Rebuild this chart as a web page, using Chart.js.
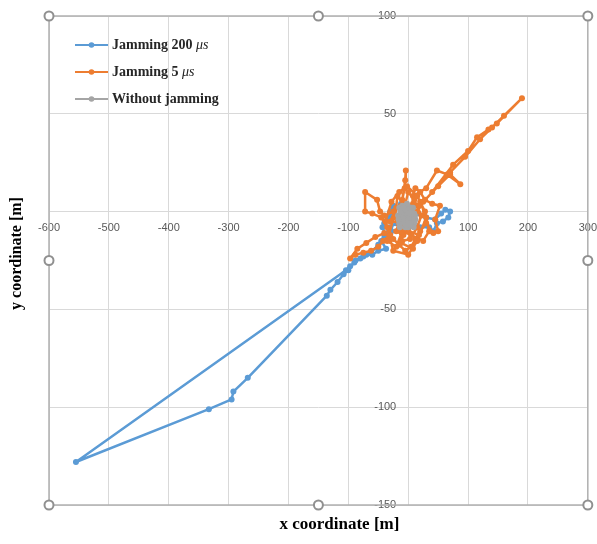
<!DOCTYPE html>
<html><head><meta charset="utf-8">
<script src="https://cdn.jsdelivr.net/npm/chart.js@4.4.0/dist/chart.umd.min.js"></script>
<style>html,body{margin:0;padding:0;background:#fff;}#wrap{width:597px;height:544px;position:relative;}</style>
</head><body><div id="wrap"><canvas id="c" width="597" height="544"></canvas></div>
<script>
// ---- data ----
const seriesNames = ['Jamming 200 \u03bcs', 'Jamming 5 \u03bcs', 'Without jamming'];
const seriesColors = ['#5B9BD5', '#ED7D31', '#A5A5A5'];
const xTitle = 'x coordinate [m]';
const yTitle = 'y coordinate [m]';

const jam200X = [-20,-30,-25,-35,-43,-38,-45,-37,-50,-60,-70,-80,-90,-97,-104,-555,-333,-295,-292,-268,-136,-130,-118,-108,-100,-88,-75,-62,-50,-40,-30,-20,-10,0,10,20,35,42,48,58,67,70,62,55,45,30,15,0,-12,-22,-32,-40,-28];
const jam200Y = [-2,0,3,-3,-8,-12,-15,-19,-20,-22,-22,-24,-26,-28,-30,-128,-101,-96,-92,-85,-43,-40,-36,-32,-30,-25,-23,-21,-17,-12,-8,-6,-4,-2,-5,-8,-8,-10,-6,-5,-3,0,1,-1,-4,-3,-1,2,4,2,-4,-6,-10];

const jam5X = [0,-10,-5,-4,-6,-12,-25,-40,-47,-52,-72,-72,-60,-45,-35,-30,-42,-50,-62,-75,-88,-97,-85,-70,-55,-40,-25,-15,-5,5,12,20,30,42,50,45,53,40,28,20,12,8,30,48,65,87,70,40,75,100,115,134,148,190,160,140,120,95,70,50,25,15,5,-5,-15,-20,-8,0,10,18,8,-3,-18,-22,-10,3,15,22,10,0,-8,2,-30,-20,-35,-20,-10,5,25,35,28,15,-2,-15,-28,-38,-25,0,15,30,20,-5,-12,8,18,-6];
const jam5Y = [0,6,16,21,12,3,0,-2,0,6,10,0,-1,-3,-8,-12,-15,-18,-20,-21,-22,-24,-19,-16,-13,-11,-14,-17,-20,-18,-14,-10,-6,-11,-10,-4,3,4,6,10,12,8,12,21,19,14,19,10,24,31,38,42,45,58,49,43,37,28,20,13,5,0,-5,-8,-5,-10,-12,-10,-3,3,4,2,8,-3,-15,-14,-8,-2,6,10,0,-6,-5,2,-15,-18,-10,-12,-15,-10,0,8,13,10,5,-5,-20,-22,-15,-3,5,-4,-16,-19,-12,-9];

const noJamX = [-15,-5,5,-10,0,10,-17,-8,3,12,-12,0,8,-5,5,-15,-3,6,-10,2,-6,10,-12,-2,8,0,-14,4,-16,-7,11,-4,7,-13,1,9,-9,3];
const noJamY = [2,3,2,0,1,-1,-2,-3,-2,-4,-5,-6,-7,-8,-5,-6,-1,0,3,-3,-5,-6,-1,4,2,-8,-8,-1,-4,1,-2,-7,-4,0,-4,-8,2,-6];

const xTicks = {min: -600, max: 300, step: 100};
const yTicks = {min: -150, max: 100, step: 50};

// ---- build ----
function zip(xs, ys){ return xs.map((x,i)=>({x:x, y:ys[i]})); }
const seriesData = [zip(jam200X, jam200Y), zip(jam5X, jam5Y), zip(noJamX, noJamY)];
const datasets = seriesData.map((d,i)=>({
  label: seriesNames[i], data: d, showLine: true, tension: 0,
  borderColor: seriesColors[i], backgroundColor: seriesColors[i],
  borderWidth: 2.5, borderJoinStyle: 'round', borderCapStyle: 'round',
  pointRadius: 3, pointBorderWidth: 0, pointHoverRadius: 3,
  order: 3 - i
}));

const decor = {
  id: 'decor',
  afterDraw(chart){
    const ctx = chart.ctx, ca = chart.chartArea;
    ctx.save();
    // selection frame
    ctx.strokeStyle = '#b0b0b0'; ctx.lineWidth = 1.5;
    ctx.strokeRect(ca.left, ca.top, ca.right - ca.left, ca.bottom - ca.top);
    const mx = (ca.left + ca.right) / 2, my = (ca.top + ca.bottom) / 2;
    const handles = [[ca.left,ca.top],[mx,ca.top],[ca.right,ca.top],[ca.left,my],[ca.right,my],[ca.left,ca.bottom],[mx,ca.bottom],[ca.right,ca.bottom]];
    handles.forEach(([hx,hy])=>{
      ctx.beginPath(); ctx.arc(hx, hy, 4.5, 0, Math.PI*2);
      ctx.fillStyle = '#fff'; ctx.fill();
      ctx.lineWidth = 2; ctx.strokeStyle = '#909090'; ctx.stroke();
    });
    // legend
    const lx = ca.left + 26, ly = ca.top + 29, pitch = 27;
    chart.data.datasets.forEach((ds,i)=>{
      const y = ly + i*pitch;
      ctx.strokeStyle = ds.borderColor; ctx.lineWidth = 2;
      ctx.beginPath(); ctx.moveTo(lx, y); ctx.lineTo(lx+33, y); ctx.stroke();
      ctx.fillStyle = ds.borderColor;
      ctx.beginPath(); ctx.arc(lx+16.5, y, 2.8, 0, Math.PI*2); ctx.fill();
      ctx.fillStyle = '#262626'; ctx.textBaseline = 'middle'; ctx.textAlign = 'left';
      const label = ds.label;
      const k = label.indexOf('\u03bcs');
      ctx.font = 'bold 14px "Liberation Serif"';
      if (k >= 0) {
        const pre = label.slice(0, k);
        ctx.fillText(pre, lx+37, y);
        const w = ctx.measureText(pre).width;
        ctx.font = 'italic 14px "Liberation Serif"';
        ctx.fillText('\u03bcs', lx+37+w, y);
      } else {
        ctx.fillText(label, lx+37, y);
      }
    });
    // axis titles
    ctx.fillStyle = '#000';
    ctx.font = 'bold 17px "Liberation Serif"';
    ctx.textAlign = 'center'; ctx.textBaseline = 'middle';
    ctx.fillText(xTitle, mx + 21, ca.bottom + 20);
    ctx.translate(17, my - 7);
    ctx.rotate(-Math.PI/2);
    ctx.font = 'bold 16px "Liberation Serif"';
    ctx.fillText(yTitle, 0, 0);
    ctx.restore();
  }
};

const tickFont = {family: '"Liberation Sans"', size: 11};
new Chart(document.getElementById('c'), {
  type: 'scatter',
  data: {datasets: datasets},
  options: {
    responsive: false, animation: false,
    layout: {padding: {left: 49, top: 16, right: 9, bottom: 39}},
    plugins: {legend: {display: false}, tooltip: {enabled: false}},
    scales: {
      x: {type: 'linear', min: xTicks.min, max: xTicks.max, position: {y: 0},
          ticks: {stepSize: xTicks.step, color: '#595959', font: tickFont, padding: 0, maxRotation: 0},
          grid: {color: '#d9d9d9', drawTicks: true, tickLength: 10, tickColor: 'rgba(0,0,0,0)', lineWidth: 1},
          border: {display: false}},
      y: {type: 'linear', min: yTicks.min, max: yTicks.max, position: {x: -20},
          ticks: {stepSize: yTicks.step, color: '#595959', font: tickFont, padding: 0},
          grid: {color: '#d9d9d9', drawTicks: false, lineWidth: 1},
          border: {display: false}}
    }
  },
  plugins: [decor]
});
</script></body></html>
